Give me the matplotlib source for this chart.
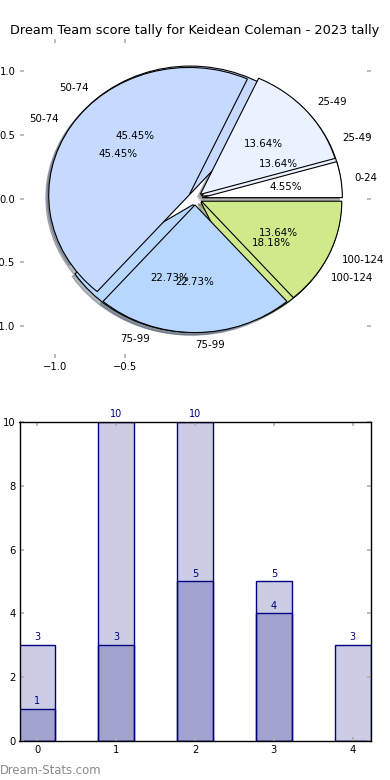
import matplotlib
matplotlib.use("Agg")
import matplotlib.pyplot as plt
import numpy as np

# ---- data ----
title = "Dream Team score tally for Keidean Coleman - 2023 tally"
pie1_labels = ["0-24", "25-49", "50-74", "75-99", "100-124"]
pie1_values = [1, 3, 10, 5, 3]
pie1_colors = ["#FFFFFF", "#EAF1FF", "#C6D9FF", "#B7D7FF", "#D0EA8B"]

pie2_labels = ["25-49", "50-74", "75-99", "100-124"]
pie2_values = [3, 10, 5, 4]
pie2_colors = ["#EAF1FF", "#C6D9FF", "#B7D7FF", "#D0EA8B"]

bar_x = [0, 1, 2, 3, 4]
bar_total = [3, 10, 10, 5, 3]
bar_part = [1, 3, 5, 4, 0]
watermark = "Dream-Stats.com"

plt.rcParams['font.family'] = ['DejaVu Sans']

fig = plt.figure(figsize=(3.9, 7.8), dpi=100)
fig.subplots_adjust(left=0.05, right=0.95, top=0.95, bottom=0.05, hspace=0.2)
ax1 = fig.add_subplot(2, 1, 1)
ax2 = fig.add_subplot(2, 1, 2)

tick_grey = "#b0b0b0"
wp = dict(edgecolor="black", linewidth=0.8)
shadow_style = dict(ox=-0.015, oy=-0.015, shade=0.55, alpha=0.45)

for vals, labs, cols in [(pie2_values, pie2_labels, pie2_colors),
                         (pie1_values, pie1_labels, pie1_colors)]:
    wedges, texts, autotexts = ax1.pie(
        vals, labels=labs, colors=cols, explode=[0.05] * len(vals),
        autopct="%1.2f%%", shadow=shadow_style, wedgeprops=wp,
        textprops=dict(fontsize=7.4))
    for t in texts:
        x, y = t.get_position()
        if abs(x) < 1e-6:
            t.set_ha("left")

ax1.set_aspect("auto")
ax1.set_frame_on(False)
ax1.set_xlim(-1.25, 1.25)
ax1.set_ylim(-1.25, 1.25)
ax1.set_xticks([-1.0, -0.5])
ax1.set_yticks([-1.0, -0.5, 0.0, 0.5, 1.0])
ax1.tick_params(direction="in", length=3, width=1.2, color=tick_grey,
                labelsize=7.2, top=True, right=True, pad=3)
ax1.set_title(title, fontsize=9.25, pad=3.4)

# ---- bars ----
face = (0, 0, 0.5, 0.2)
b1 = ax2.bar(bar_x, bar_total, width=0.45, color=face, edgecolor="navy", linewidth=1)
b2 = ax2.bar(bar_x, bar_part, width=0.45, color=face, edgecolor="navy", linewidth=1)
ax2.bar_label(b1, labels=[str(v) for v in bar_total], padding=2, color="navy", fontsize=7)
ax2.bar_label(b2, labels=[str(v) if v else "" for v in bar_part], padding=2, color="navy", fontsize=7)
ax2.set_xlim(-0.225, 4.225)
ax2.set_ylim(0, 10)
ax2.set_xticks(bar_x)
ax2.set_yticks([0, 2, 4, 6, 8, 10])
ax2.tick_params(direction="in", length=3, width=1.2, color=tick_grey,
                labelsize=7.2, top=True, right=True, pad=3)
for s in ax2.spines.values():
    s.set_linewidth(1)
    s.set_color("black")

fig.text(0.0, 1 - 770 / 780, watermark, color="#8a8a8a", fontsize=8.4,
         ha="left", va="center")

fig.savefig("out.png", dpi=100)
